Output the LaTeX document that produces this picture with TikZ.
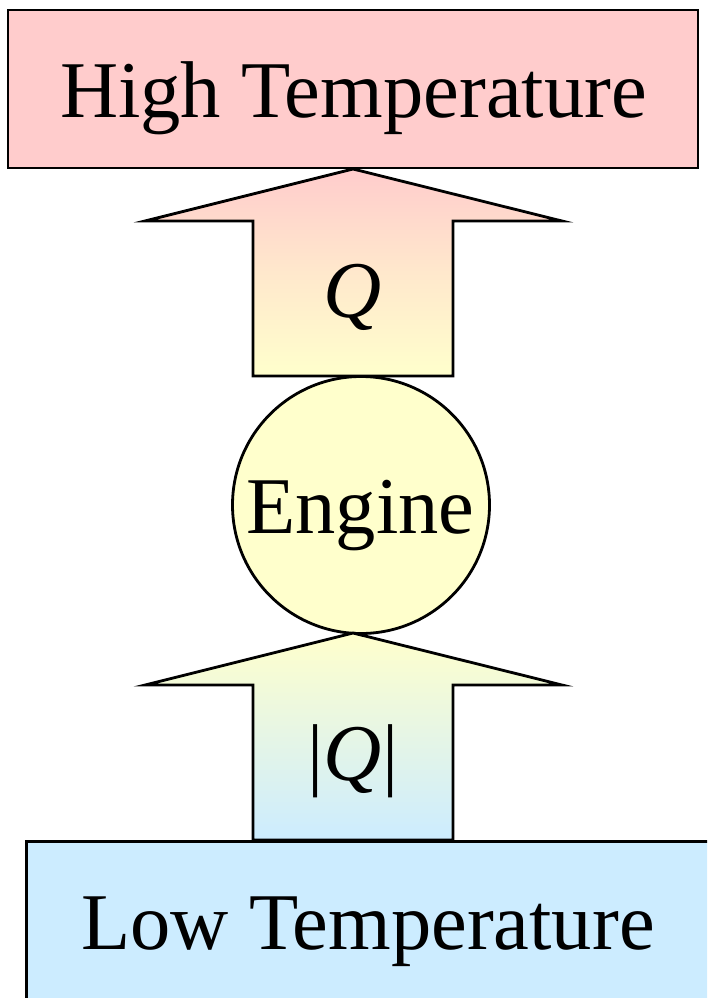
\documentclass[tikz,border=0pt]{standalone}
\usepackage{fontspec}
\setmainfont{Liberation Serif}
\definecolor{hotpink}{RGB}{255,204,204}
\definecolor{engyellow}{RGB}{255,255,204}
\definecolor{coldblue}{RGB}{204,236,255}
\begin{document}
\begin{tikzpicture}[x=1pt,y=-1pt,
  outline/.style={draw=black,line width=2.8pt,line join=miter},
  bigtext/.style={font=\fontsize{80.5}{92}\selectfont,inner sep=0pt,anchor=base}]
\useasboundingbox (0,0) rectangle (707,998);
\clip (0,0) rectangle (707,998);
% reservoirs
\node[outline,fill=hotpink,rectangle,minimum width=690pt,minimum height=158pt,inner sep=0pt] (high) at (353,89) {};
\node[outline,fill=coldblue,rectangle,minimum width=700pt,minimum height=200pt,inner sep=0pt,anchor=north west] (low) at (25,840) {};
\node[bigtext] (hightext) at (353.5,117) {High Temperature};
\node[bigtext] (lowtext) at (368,949) {Low Temperature};
% engine
\node[outline,fill=engyellow,circle,minimum size=257pt,inner sep=0pt] (engine) at (361,505) {};
\node[bigtext] (enginetext) at (360.5,533) {Engine};
% arrow coordinates
\coordinate (t1) at (353,169);
\coordinate (t2) at (353,633);
% upper arrow
\shade[top color=hotpink,bottom color=engyellow,middle color={hotpink!45!engyellow}]
  (t1) -- (562,221) -- (453,221) -- (453,376) -- (253,376) -- (253,221) -- (145,221) -- cycle;
\draw[outline] (t1) -- (562,221) -- (453,221) -- (453,376) -- (253,376) -- (253,221) -- (145,221) -- cycle;
% lower arrow
\shade[top color=engyellow,bottom color=coldblue]
  (t2) -- (562,685) -- (453,685) -- (453,840) -- (253,840) -- (253,685) -- (145,685) -- cycle;
\draw[outline] (t2) -- (562,685) -- (453,685) -- (453,840) -- (253,840) -- (253,685) -- (145,685) -- cycle;
\node[bigtext] (qtop) at (353,317) {\textit{Q}};
\node[bigtext] (qbot) at (353,780) {|\textit{Q}|};
\end{tikzpicture}
\end{document}
